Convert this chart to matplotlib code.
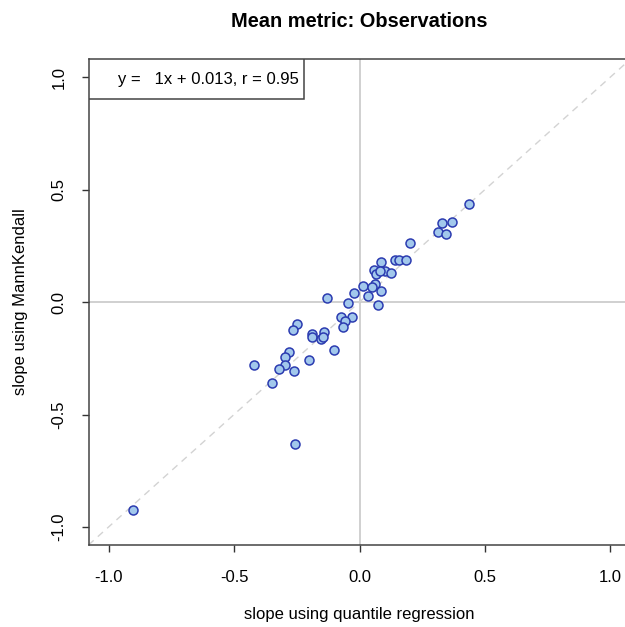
import matplotlib
matplotlib.use('Agg')
import matplotlib.pyplot as plt
from matplotlib.patches import Rectangle

plt.rcParams['font.family'] = ['Liberation Sans', 'DejaVu Sans']

# slopes per station: quantile regression (x) vs MannKendall (y)
qr_slope = [0.436, 0.329, 0.367, 0.312, 0.343, 0.200, 0.085, 0.141, 0.157, 0.184,
            0.057, 0.102, 0.067, 0.127, 0.082, 0.015, 0.060, 0.048, 0.084, -0.020,
            0.034, -0.130, -0.047, 0.075, -0.072, -0.029, -0.058, -0.065, -0.249, -0.264,
            -0.188, -0.141, -0.191, -0.154, -0.145, -0.102, -0.280, -0.298, -0.202, -0.298,
            -0.320, -0.263, -0.420, -0.349, -0.259, -0.904]
mk_slope = [0.434, 0.353, 0.356, 0.310, 0.303, 0.262, 0.180, 0.186, 0.186, 0.186,
            0.142, 0.139, 0.124, 0.128, 0.136, 0.071, 0.081, 0.068, 0.050, 0.042,
            0.025, 0.017, -0.006, -0.015, -0.065, -0.068, -0.084, -0.112, -0.098, -0.124,
            -0.143, -0.135, -0.156, -0.164, -0.154, -0.213, -0.224, -0.246, -0.259, -0.281,
            -0.299, -0.308, -0.281, -0.359, -0.630, -0.924]

fit_slope = 1
fit_intercept = 0.013
fit_r = 0.95

ticks = [-1.0, -0.5, 0.0, 0.5, 1.0]
lim = (-1.08, 1.08)

fig = plt.figure(figsize=(6.25, 6.27), dpi=100)
ax = fig.add_axes([0.1416, 0.1308, 0.8672, 0.775])

ax.axvline(0, color='#c8c8c8', lw=1.2, zorder=1)
ax.axhline(0, color='#c8c8c8', lw=1.2, zorder=1)
ax.plot(lim, lim, color='#d3d3d3', lw=1, ls=(0, (5, 4)), zorder=1)

ax.scatter(qr_slope, mk_slope, s=42, facecolor='#a2c8ec', edgecolor='#2b3bb0',
           linewidth=1.1, zorder=3)

ax.set_xlim(lim)
ax.set_ylim(lim)
ax.set_xticks(ticks)
ax.set_yticks(ticks)
ax.set_xticklabels(['%.1f' % t for t in ticks])
ax.set_yticklabels(['%.1f' % t for t in ticks], rotation=90, va='center')
ax.tick_params(direction='out', length=5, width=1, labelsize=12, pad=11, color='#333333')
ax.tick_params(axis='x', pad=13)
for sp in ax.spines.values():
    sp.set_color('#444444')
    sp.set_linewidth(1.1)

ax.set_xlabel('slope using quantile regression', fontsize=12, labelpad=16)
ax.set_ylabel('slope using MannKendall', fontsize=12, labelpad=17)
ax.set_title('Mean metric: Observations', fontsize=14.4, fontweight='bold', pad=23)

# legend box like R's legend()
ax.add_patch(Rectangle((lim[0], 0.902), -0.223 - lim[0], lim[1] - 0.902,
                       facecolor='white', edgecolor='#444444', lw=1.1, zorder=4))
ax.text(-0.964, 0.991, 'y =   %gx + %.3f, r = %.2f' % (fit_slope, fit_intercept, fit_r),
        fontsize=12, va='center', ha='left', zorder=5)

fig.savefig('out.png', dpi=100)
